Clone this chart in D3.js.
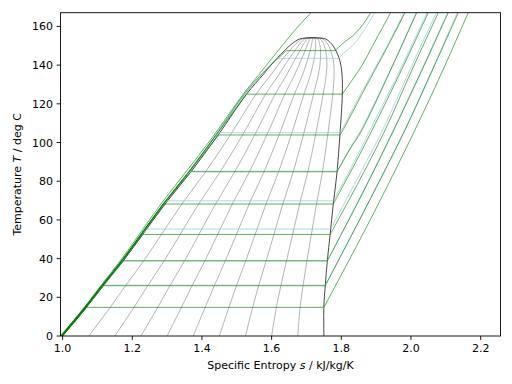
<!DOCTYPE html>
<html><head><meta charset="utf-8">
<script src="https://cdn.jsdelivr.net/npm/d3@7"></script>
<style>
html,body{margin:0;padding:0;background:#fff;}
svg{display:block;font-family:"DejaVu Sans",sans-serif;}
</style></head>
<body>
<svg id="chart" width="512" height="384"></svg>
<script>
// ---- data ----
const xTicks = [1.0, 1.2, 1.4, 1.6, 1.8, 2.0, 2.2];
const yTicks = [0, 20, 40, 60, 80, 100, 120, 140, 160];
const xDomain = [0.994, 2.257];
const yDomain = [0, 167.1];

// saturation dome
const satT       = [0, 15, 26, 39, 52.5, 68.2, 85, 104, 125, 135.4, 142.3, 148, 151, 153.5, 154.0, 154.2];
const satLiquidS = [1.000, 1.0694, 1.117, 1.175, 1.230, 1.294, 1.369, 1.447, 1.528, 1.577, 1.609, 1.640, 1.658, 1.680, 1.697, 1.718];
const satVaporS  = [1.750, 1.750, 1.754, 1.760, 1.768, 1.777, 1.788, 1.796, 1.803, 1.802, 1.796, 1.783, 1.772, 1.755, 1.739, 1.718];

// vapour quality levels drawn inside the dome
const qualityLevels = [0.1, 0.2, 0.3, 0.4, 0.5, 0.6, 0.7, 0.8, 0.9];

// green isobars: [s, T] from saturated liquid across the dome and up the superheated side
const greenIsobars = [
  [[1.0694,14.8],[1.750,14.8],[1.883,60],[2.0115,106.5],[2.093,138],[2.1644,167.1]],
  [[1.117,26],[1.754,26],[1.871,66.5],[1.9828,106.5],[2.063,138],[2.1357,167.1]],
  [[1.174,38.8],[1.760,38.8],[1.859,73],[1.951,106.5],[2.033,138],[2.107,167.1]],
  [[1.230,52.5],[1.768,52.5],[1.851,80],[1.926,106.5],[2.004,138],[2.0784,167.1]],
  [[1.294,68.2],[1.777,68.2],[1.836,88],[1.8887,106.5],[1.974,138],[2.0497,167.1]],
  [[1.3687,84.9],[1.788,84.9],[1.823,96],[1.8594,106.5],[1.943,138],[2.0164,167.1]],
  [[1.447,103.9],[1.796,103.9],[1.805,106.5],[1.8594,125],[1.934,150],[1.9828,167.1]],
  [[1.528,125],[1.803,125],[1.83,132],[1.86,140],[1.89,150],[1.917,159],[1.9418,167.1]]
];
// compressed-liquid entropy offset of each green isobar below its saturation temperature
const greenLiquidShift = [0, -0.0008, -0.0015, -0.002, -0.0028, -0.0035, -0.0045, -0.0055];
// green isobars whose liquid branch separates from the saturated-liquid line
const greenIsobarHigh = [[0.996,0],[1.066,15],[1.113,26],[1.170,39],[1.225,52.5],[1.288,68.2],[1.362,85],[1.433,102.2],[1.522,125],[1.58,137],[1.643,147.5],[1.782,147.5],[1.797,150],[1.813,152.5],[1.832,155],[1.851,158.5],[1.868,162.5],[1.884,167.1]];
const greenIsobarSuper = [[0.994,0],[1.063,15],[1.110,26],[1.166,39],[1.220,52.5],[1.282,68.2],[1.355,85],[1.428,102.2],[1.519,125.1],[1.563,135],[1.6671,158.1],[1.7131,167.1]];

// light-blue isobars
const blueIsobars = [
  [[1.118,26.3],[1.754,26.3],[1.872,67],[1.984,107],[2.062,138],[2.133,167.1]],
  [[1.175,39],[1.760,39],[1.859,73.5],[1.951,107],[2.032,138],[2.105,167.1]],
  [[1.241,55.3],[1.7696,55.3],[1.848,82],[1.92,107],[1.998,138],[2.073,167.1]],
  [[1.3016,69.9],[1.778,69.9],[1.834,89],[1.884,107],[1.970,138],[2.046,167.1]],
  [[1.370,85.2],[1.788,85.2],[1.823,96.5],[1.858,107],[1.942,138],[2.015,167.1]],
  [[1.4512,105.1],[1.7964,105.1],[1.806,108],[1.857,125.5],[1.932,150],[1.980,167.1]]
];
const blueLiquidShift = [-0.001, -0.0017, -0.0025, -0.003, -0.004, -0.005];
const blueIsobarHigh = [[0.997,0],[1.067,15],[1.114,26],[1.172,39],[1.227,52.5],[1.290,68.2],[1.365,85],[1.442,104],[1.525,125],[1.574,135.4],[1.614,143.5],[1.792,143.5],[1.806,146.1],[1.834,150.4],[1.863,157.3],[1.896,167.1]];

// ---- drawing ----
const svg = d3.select('#chart');
const L = 60.5, R = 500.5, T = 12.7, B = 336;
const x = d3.scaleLinear().domain(xDomain).range([L, R]);
const y = d3.scaleLinear().domain(yDomain).range([B, T]);

svg.append('defs').append('clipPath').attr('id','clip')
  .append('rect').attr('x', L).attr('y', T).attr('width', R - L).attr('height', B - T);

const plot = svg.append('g').attr('clip-path','url(#clip)');
const smooth = d3.line().x(d => x(d[0])).y(d => y(d[1])).curve(d3.curveCatmullRom.alpha(0.5));

// liquid branch of an isobar taken from the saturated-liquid data below its saturation temperature
function withLiquid(path, shift) {
  const tsat = path[0][1];
  const pre = satT.map((t,i) => [satLiquidS[i] + shift, t]).filter(d => d[1] < tsat - 0.5);
  return pre.concat(path);
}
// split a path at its horizontal (two-phase) part so that the corners stay sharp
function pieces(path) {
  const out = [];
  let cur = [path[0]];
  for (let i = 1; i < path.length; i++) {
    if (path[i][1] === path[i-1][1]) {
      out.push(cur);
      out.push([path[i-1], path[i]]);
      cur = [path[i]];
    } else cur.push(path[i]);
  }
  out.push(cur);
  return out.filter(p => p.length > 1);
}
function drawSet(paths, cls, color, op, w) {
  const segs = [];
  paths.forEach(p => pieces(p).forEach(s => segs.push(s)));
  plot.selectAll('path.' + cls).data(segs).enter().append('path')
    .attr('class', cls).attr('d', smooth).attr('fill','none')
    .attr('stroke', color).attr('stroke-opacity', op).attr('stroke-width', w);
}

// quality lines
const qLines = qualityLevels.map(q => satT.map((t,i) => [satLiquidS[i] + q*(satVaporS[i]-satLiquidS[i]), t]));
plot.selectAll('path.q').data(qLines).enter().append('path')
  .attr('class','q').attr('d', smooth).attr('fill','none')
  .attr('stroke','#707070').attr('stroke-opacity',0.75).attr('stroke-width',0.7);

// dome
const dome = satT.map((t,i)=>[satLiquidS[i],t]).concat(satT.map((t,i)=>[satVaporS[i],t]).reverse().slice(1));
plot.append('path').attr('d', smooth(dome))
  .attr('fill','none').attr('stroke','#333').attr('stroke-width',0.9);

// isobars: light blue underneath, green on top
const blues = blueIsobars.map((p,i) => withLiquid(p, blueLiquidShift[i])).concat([blueIsobarHigh]);
drawSet(blues, 'b', '#8cc8d2', 0.75, 0.9);
const greens = greenIsobars.map((p,i) => withLiquid(p, greenLiquidShift[i])).concat([greenIsobarHigh, greenIsobarSuper]);
drawSet(greens, 'g', '#008000', 0.62, 1.0);

// axes
const fs = 11;
const xAxis = svg.append('g');
xTicks.forEach(v => {
  xAxis.append('line').attr('x1', x(v)).attr('x2', x(v)).attr('y1', B).attr('y2', B + 3.9)
    .attr('stroke','#000').attr('stroke-width',0.9);
  xAxis.append('text').attr('x', x(v)).attr('y', B + 16).attr('text-anchor','middle')
    .attr('font-size', fs).attr('fill','#000').text(v.toFixed(1));
});
const yAxis = svg.append('g');
yTicks.forEach(v => {
  yAxis.append('line').attr('x1', L - 3.9).attr('x2', L).attr('y1', y(v)).attr('y2', y(v))
    .attr('stroke','#000').attr('stroke-width',0.9);
  yAxis.append('text').attr('x', L - 7.5).attr('y', y(v) + 4).attr('text-anchor','end')
    .attr('font-size', fs).attr('fill','#000').text(v);
});
svg.append('rect').attr('x', L).attr('y', T).attr('width', R - L).attr('height', B - T)
  .attr('fill','none').attr('stroke','#000').attr('stroke-width',0.9);

const xl = svg.append('text').attr('x', (L + R) / 2).attr('y', 368.5).attr('text-anchor','middle')
  .attr('font-size', fs).attr('fill','#000');
xl.append('tspan').text('Specific Entropy ');
xl.append('tspan').attr('font-style','italic').text('s');
xl.append('tspan').text(' / kJ/kg/K');

const yl = svg.append('text').attr('transform', `translate(20.5,${(T + B) / 2}) rotate(-90)`)
  .attr('text-anchor','middle').attr('font-size', fs).attr('fill','#000');
yl.append('tspan').text('Temperature ');
yl.append('tspan').attr('font-style','italic').text('T');
yl.append('tspan').text(' / deg C');
</script>
</body></html>
